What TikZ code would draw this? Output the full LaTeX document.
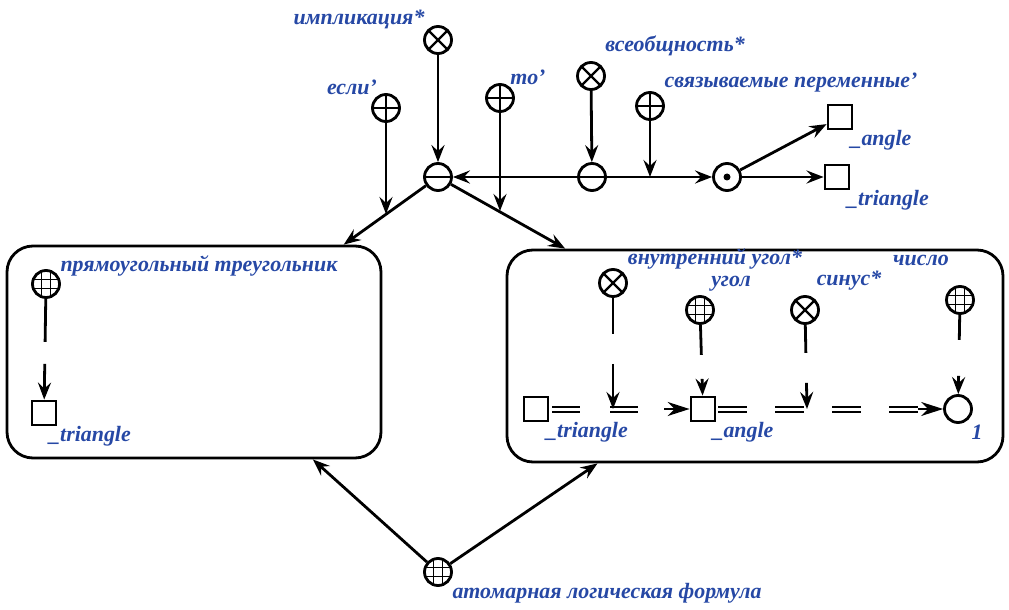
\documentclass[tikz,border=0pt]{standalone}
\usepackage{fontspec}
\setmainfont{Liberation Serif}
\usetikzlibrary{arrows.meta,calc}
\definecolor{lblue}{RGB}{38,72,165}
\begin{document}
\begin{tikzpicture}[x=1bp,y=-1bp, line width=2.8bp,
  >={Stealth[length=17bp,width=13bp,inset=6bp]},
  nd/.style={circle, draw, minimum size=27bp, inner sep=0pt, fill=white},
  ndx/.style={nd, path picture={\draw[line width=2.4bp] (path picture bounding box.north west) -- (path picture bounding box.south east) (path picture bounding box.north east) -- (path picture bounding box.south west);}},
  ndp/.style={nd, path picture={\draw[line width=2.4bp] (path picture bounding box.north) -- (path picture bounding box.south) (path picture bounding box.west) -- (path picture bounding box.east);}},
  ndm/.style={nd},
  ndd/.style={nd},
  ndg/.style={nd, path picture={\draw[line width=1.2bp]
      ([xshift=-4.5bp]path picture bounding box.north) -- ([xshift=-4.5bp]path picture bounding box.south)
      ([xshift=4.5bp]path picture bounding box.north) -- ([xshift=4.5bp]path picture bounding box.south)
      ([yshift=-4.5bp]path picture bounding box.west) -- ([yshift=-4.5bp]path picture bounding box.east)
      ([yshift=4.5bp]path picture bounding box.west) -- ([yshift=4.5bp]path picture bounding box.east);}},
  ndo/.style={nd},
  sq/.style={draw, minimum size=24bp, inner sep=0pt, fill=white},
  lbl/.style={text=lblue, font=\fontsize{22}{24}\selectfont\bfseries\itshape, inner sep=0pt},
  cbox/.style={draw, rounded corners=26bp, minimum width=#1, minimum height=212bp, inner sep=0pt},
  varc/.style={->, dash pattern=on 36bp off 30bp},
  darc/.style={double, double distance=3bp, line width=2bp},
  dtip/.style={-{Stealth[length=22bp,width=14bp,inset=7bp]}, line width=2.2bp},
  midbar/.style={line width=2.4bp},
]
\useasboundingbox (0,0) rectangle (1009,610);

% boxes
\node[cbox=374bp] (lbox) at (194,352) {};
\node[cbox=496bp] (rbox) at (755,356) {};

% top nodes
\node[ndx] (impl) at (438,40) {};
\node[ndp] (esli) at (386,108) {};
\node[ndp] (to) at (500,98) {};
\node[ndx] (vseob) at (591,76) {};
\node[ndp] (svyaz) at (650,106) {};
\node[ndm] (m1) at (438,177) {};
\node[ndm] (m2) at (592,177) {};
\node[ndd] (dot) at (727,177) {};
\draw[midbar] (m1.west) -- (m1.east);
\draw[midbar] (m2.west) -- (m2.east);
\fill (dot.center) circle (3.5bp);
\node[sq] (sqA) at (840,117) {};
\node[sq] (sqT) at (837,177) {};
\node[ndg] (atom) at (438,572) {};

% top labels
\node[lbl] (limpl) at (359,19) {импликация*};
\node[lbl] (lesli) at (352,87) {если'};
\node[lbl] (lto) at (528,77) {то'};
\node[lbl] (lvseob) at (675,46) {всеобщность*};
\node[lbl] (lsvyaz) at (791,83) {связываемые переменные'};
\node[lbl] (lsqA) at (881,140) {\_angle};
\node[lbl] (lsqT) at (888,200) {\_triangle};
\node[lbl] (latom) at (607,593) {атомарная логическая формула};

% top connectors
\coordinate (ce) at (386,214);
\coordinate (ct) at (500,211);
\coordinate (cs) at (650,177);
\draw[->] (impl) -- (m1);
\draw[->] (vseob) -- (m2);
\draw[->] (m2) -- (m1);
\draw[->] (m2) -- (dot);
\draw[->] (svyaz) -- (cs);
\draw[->] (dot) -- (sqA);
\draw[->] (dot) -- (sqT);
\draw[->] (m1) -- (lbox);
\draw[->] (m1) -- (rbox);
\draw[->] (esli) -- (ce);
\draw[->] (to) -- (ct);
\draw[->] (atom) -- (lbox);
\draw[->] (atom) -- (rbox);

% left box content
\node[ndg] (pt) at (46,284) {};
\node[sq] (sqL) at (44,413) {};
\node[lbl] (lpt) at (199,266) {прямоугольный треугольник};
\node[lbl] (lsqL) at (90,436) {\_triangle};
\draw[varc, dash pattern=on 43bp off 22bp] (pt) -- (sqL);

% right box content
\node[sq] (sq1) at (536,409) {};
\node[sq] (sq2) at (703,409) {};
\node[ndo] (circ) at (958,409) {};
\node[ndx] (vn) at (613,283) {};
\node[ndg] (ugol) at (700,310) {};
\node[ndx] (sin) at (805,310) {};
\node[ndg] (chis) at (960,300) {};
\node[lbl] (lvn) at (715,259) {внутренний угол*};
\node[lbl] (lugol) at (731,284) {угол};
\node[lbl] (lsin) at (849,281) {синус*};
\node[lbl] (lchis) at (921,260) {число};
\node[lbl] (lsq1) at (587,432) {\_triangle};
\node[lbl] (lsq2) at (743,432) {\_angle};
\node[lbl] (lcirc) at (977,432) {1};

% double (common) arcs, dashed, with their tips
\draw[darc, dash pattern=on 28bp off 30bp, dash phase=55bp, shorten >=22bp] (sq1) -- (sq2);
\coordinate (t1) at (664,409);
\draw[dtip] (t1) -- (sq2);
\draw[darc, dash pattern=on 29bp off 28bp, dash phase=55bp, shorten >=20bp] (sq2) -- (circ);
\coordinate (t2) at (918,409);
\draw[dtip] (t2) -- (circ);

\coordinate (cv) at (613,409);
\coordinate (cn) at (807,409);
\draw[varc] (vn) -- (cv);
\draw[varc, dash pattern=on 30bp off 24bp] (ugol) -- (sq2);
\draw[varc, dash pattern=on 28bp off 30bp] (sin) -- (cn);
\draw[varc, dash pattern=on 25bp off 36bp] (chis) -- (circ);
\end{tikzpicture}
\end{document}
